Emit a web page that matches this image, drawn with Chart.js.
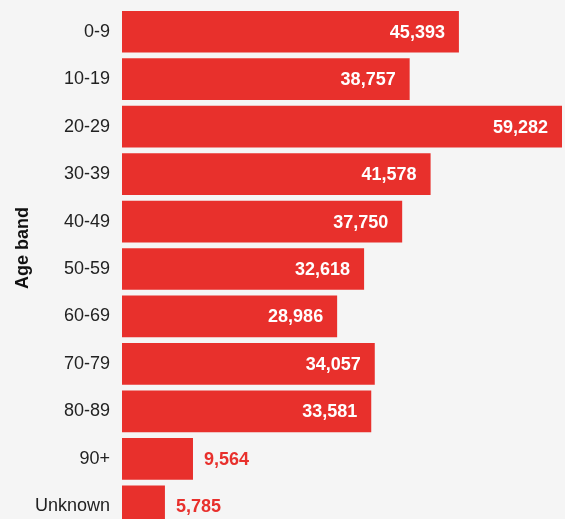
<!DOCTYPE html>
<html>
<head>
<meta charset="utf-8">
<script src="https://cdn.jsdelivr.net/npm/chart.js@4"></script>
<style>
  html, body { margin: 0; padding: 0; background: #f5f5f5; overflow: hidden; }
  canvas { display: block; }
</style>
</head>
<body>
<canvas id="ageChart" width="565" height="536"></canvas>
<script>
const ageBands = ['0-9', '10-19', '20-29', '30-39', '40-49', '50-59', '60-69', '70-79', '80-89', '90+', 'Unknown'];
const cases = [45393, 38757, 59282, 41578, 37750, 32618, 28986, 34057, 33581, 9564, 5785];
const axisTitle = 'Age band';

const barRed = '#e8302c';
const fontFamily = '"Liberation Sans", Arial, Helvetica, sans-serif';

// value labels: inside the bar end when they fit, otherwise just past it
const valueLabels = {
  id: 'valueLabels',
  afterDatasetsDraw(chart) {
    const ctx = chart.ctx;
    const meta = chart.getDatasetMeta(0);
    ctx.save();
    ctx.font = 'bold 18px ' + fontFamily;
    ctx.textBaseline = 'middle';
    meta.data.forEach((bar, i) => {
      const text = cases[i].toLocaleString('en-US');
      const w = ctx.measureText(text).width;
      const barW = bar.x - bar.base;
      if (barW > w + 28) {
        ctx.fillStyle = '#ffffff';
        ctx.textAlign = 'right';
        ctx.fillText(text, bar.x - 14, bar.y + 1);
      } else {
        ctx.fillStyle = barRed;
        ctx.textAlign = 'left';
        ctx.fillText(text, bar.x + 11, bar.y + 1);
      }
    });
    ctx.restore();
  }
};

// rotated axis title, sitting a little above the middle of the plot
const sideTitle = {
  id: 'sideTitle',
  afterDraw(chart) {
    const ctx = chart.ctx;
    const area = chart.chartArea;
    ctx.save();
    ctx.translate(23, (area.top + area.bottom) / 2 - 21);
    ctx.rotate(-Math.PI / 2);
    ctx.font = 'bold 18px ' + fontFamily;
    ctx.fillStyle = '#111111';
    ctx.textAlign = 'center';
    ctx.textBaseline = 'middle';
    ctx.fillText(axisTitle, 0, 0);
    ctx.restore();
  }
};

new Chart(document.getElementById('ageChart').getContext('2d'), {
  type: 'bar',
  data: {
    labels: ageBands,
    datasets: [{
      data: cases,
      backgroundColor: barRed,
      borderWidth: 0,
      barPercentage: 0.878,
      categoryPercentage: 1.0
    }]
  },
  options: {
    indexAxis: 'y',
    responsive: false,
    animation: false,
    layout: { padding: { top: 8, right: 3, bottom: 6, left: 0 } },
    plugins: {
      legend: { display: false },
      tooltip: { enabled: false }
    },
    scales: {
      x: {
        display: false,
        min: 0,
        max: 59282
      },
      y: {
        grid: { display: false, drawTicks: false },
        border: { display: false },
        ticks: {
          color: '#222222',
          padding: 12,
          font: { family: fontFamily, size: 18 }
        },
        afterFit(scale) {
          scale.width = 122;
          // labels sit at band centres, no overflow room needed
          scale.paddingTop = 0;
          scale.paddingBottom = 0;
        }
      }
    }
  },
  plugins: [valueLabels, sideTitle]
});
</script>
</body>
</html>
